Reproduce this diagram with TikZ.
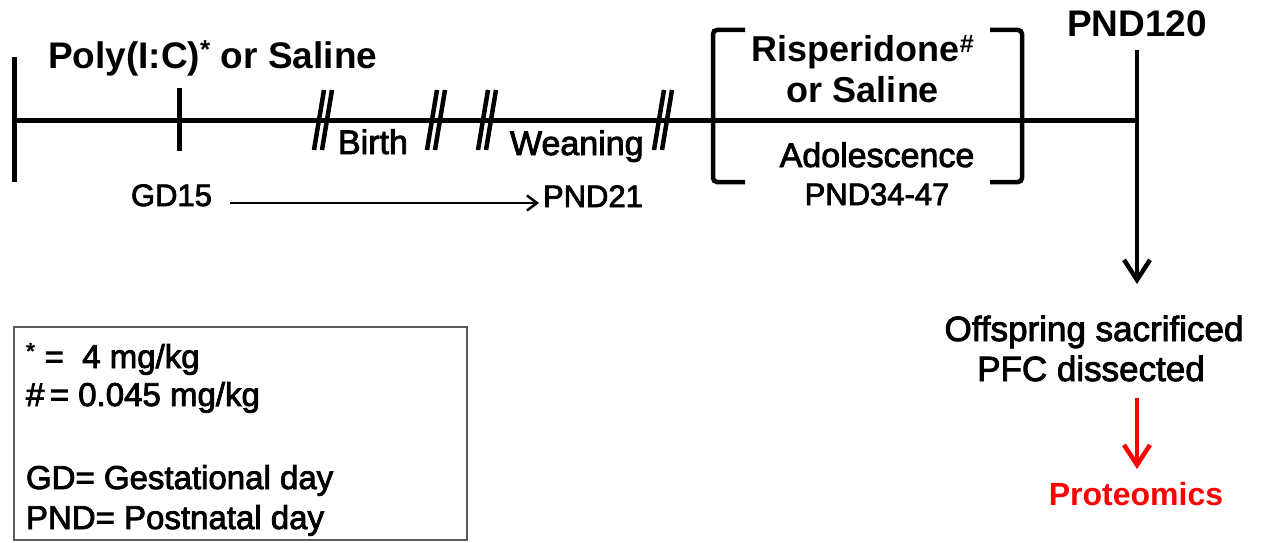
\documentclass[tikz,border=0pt]{standalone}
\usepackage{fontspec}
\setmainfont{Liberation Sans}
\newfontfamily\medfont{Liberation Sans}[RawFeature={embolden=2.5}]
\usetikzlibrary{arrows.meta}
\newcommand\fsz[1]{\fontsize{#1}{#1}\selectfont}
\definecolor{legendgray}{RGB}{90,90,90}
\begin{document}
\begin{tikzpicture}[x=1pt,y=-1pt,
  txt/.style={inner sep=0pt, outer sep=0pt},
  hd/.style={txt, font=\fsz{36}\bfseries},
  rgA/.style={txt, font=\fsz{34}\medfont},
  rgB/.style={txt, font=\fsz{31}\medfont},
  rgC/.style={txt, font=\fsz{35}\medfont},
  lg/.style={txt, font=\fsz{33}\medfont, anchor=base west},
  axis/.style={line width=5pt},
  slash/.style={line width=4.5pt},
  brk/.style={line width=4.5pt, rounded corners=4pt},
  thinarrow/.style={line width=2.5pt, -{Straight Barb[length=10pt,width=15pt,line width=2.5pt]}},
  bigarrow/.style={line width=4.5pt, -{Straight Barb[length=20pt,width=26pt,line width=4.5pt]}},
  redarrow/.style={bigarrow, draw=red}]
\useasboundingbox (0,0) rectangle (1263,543);

% main timeline
\coordinate (m0) at (14,120);
\coordinate (m1) at (1137,120);
\draw[axis] (m0) -- (m1);
\coordinate (t0a) at (14,57);
\coordinate (t0b) at (14,182);
\draw[axis] (t0a) -- (t0b);
\coordinate (t1a) at (179,88);
\coordinate (t1b) at (179,151);
\draw[axis] (t1a) -- (t1b);

% break marks
\foreach \bx in {323,436,487,663}{
  \draw[slash] (\bx-9,150) -- (\bx+1,90);
  \draw[slash] (\bx-1,150) -- (\bx+9,90);
}

% labels on the left part
\node[hd, font=\fsz{37}\bfseries, anchor=base west] (poly) at (48,68) {Poly(I:C)\textsuperscript{*} or Saline};
\node[rgA, anchor=base west] (birth) at (338,154) {Birth};
\node[rgA, anchor=base west] (wean) at (510,155) {Weaning};
\node[rgB, anchor=base west] (gd) at (131,206) {GD15};
\node[rgB, anchor=base west] (pnd21) at (543,207) {PND21};
\coordinate (g1) at (230,203);
\coordinate (g2) at (539,203);
\draw[thinarrow] (g1) -- (g2);

% bracket with treatment
\draw[brk] (745,30) -- (713,30) -- (713,182) -- (745,182);
\draw[brk] (990,30) -- (1022,30) -- (1022,182) -- (990,182);
\node[hd, anchor=base] (risp) at (863,62) {Risperidone\textsuperscript{\#}};
\node[hd, anchor=base] (orsal) at (863,102) {or Saline};
\node[rgA, anchor=base] (adol) at (877,167) {Adolescence};
\node[rgB, anchor=base] (pnd3447) at (877,205) {PND34-47};

% end point
\node[hd, font=\fsz{37}\bfseries, anchor=base] (p120) at (1137,37) {PND120};
\coordinate (v0) at (1137,50);
\coordinate (v1) at (1137,284);
\draw[bigarrow] (v0) -- (v1);
\node[rgC, anchor=base] (off) at (1094,341) {Offspring sacrificed};
\node[rgC, anchor=base] (pfc) at (1091,381) {PFC dissected};
\coordinate (r0) at (1137,398);
\coordinate (r1) at (1137,469);
\draw[redarrow] (r0) -- (r1);
\node[txt, font=\fsz{32}\bfseries, text=red, anchor=base] (prot) at (1136,505) {Proteomics};

% legend
\draw[draw=legendgray, line width=1.5pt] (14,327) rectangle (467,540);
\node[lg] (l1) at (26,368) {\textsuperscript{*} =\ \ 4 mg/kg};
\node[lg] (l2) at (26,406) {\#\,= 0.045 mg/kg};
\node[lg] (l3) at (26,489) {GD= Gestational day};
\node[lg] (l4) at (26,529) {PND= Postnatal day};
\end{tikzpicture}
\end{document}
